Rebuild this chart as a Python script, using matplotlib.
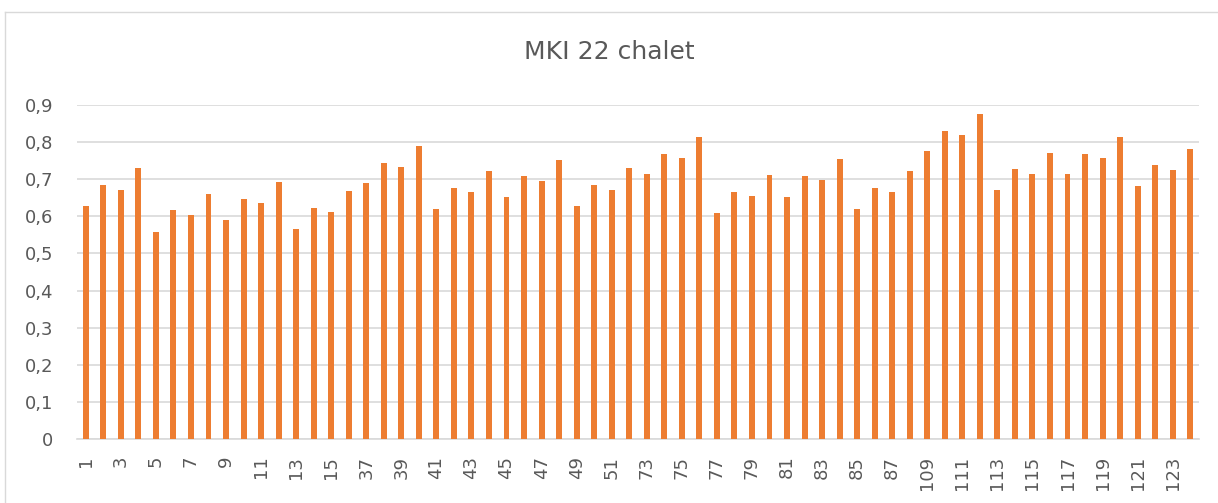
import matplotlib
matplotlib.use("Agg")
import matplotlib.pyplot as plt
from matplotlib.lines import Line2D

categories = [str(i) for i in list(range(1, 17)) + list(range(37, 53)) + list(range(73, 89)) + list(range(109, 125))]
values = [
    0.628, 0.684, 0.671, 0.729, 0.559, 0.616, 0.604, 0.661,
    0.590, 0.647, 0.635, 0.692, 0.566, 0.623, 0.612, 0.669,
    0.689, 0.745, 0.733, 0.790, 0.621, 0.677, 0.665, 0.722,
    0.652, 0.708, 0.696, 0.753, 0.628, 0.685, 0.672, 0.729,
    0.713, 0.769, 0.757, 0.814, 0.610, 0.666, 0.654, 0.711,
    0.652, 0.709, 0.697, 0.754, 0.620, 0.677, 0.665, 0.721,
    0.775, 0.831, 0.818, 0.875, 0.671, 0.728, 0.715, 0.772,
    0.713, 0.769, 0.757, 0.814, 0.681, 0.738, 0.725, 0.782,
]
yticks = [0, 0.1, 0.2, 0.3, 0.4, 0.5, 0.6, 0.7, 0.8, 0.9]
ytick_labels = ["0", "0,1", "0,2", "0,3", "0,4", "0,5", "0,6", "0,7", "0,8", "0,9"]
title = "MKI 22 chalet"

W, H = 1218, 503
fig = plt.figure(figsize=(W / 100, H / 100), dpi=100)
fig.patch.set_facecolor("white")

left, right, top, bottom = 77, 1199, 105, 439
ax = fig.add_axes([left / W, 1 - bottom / H, (right - left) / W, (bottom - top) / H])

x = list(range(len(categories)))
ax.bar(x, values, width=0.34, color="#ED7D31", zorder=3)

ax.set_xlim(-0.5, len(categories) - 0.5)
ax.set_ylim(0, 0.9)
ax.set_yticks(yticks)
ax.set_yticklabels(ytick_labels)
ax.set_xticks(x[::2])
ax.set_xticklabels(categories[::2], rotation=90)

ax.grid(axis="y", color="#D9D9D9", linewidth=1.2, zorder=0)
for s in ["top", "right", "left"]:
    ax.spines[s].set_visible(False)
ax.spines["bottom"].set_color("#D9D9D9")
ax.spines["bottom"].set_linewidth(1.2)
ax.tick_params(axis="both", length=0, colors="#595959", labelsize=13)
ax.tick_params(axis="y", pad=17)
ax.tick_params(axis="x", pad=12)

fig.text(0.5, 1 - 52 / H, title, ha="center", va="center", fontsize=18, color="#595959")

# chart border (top and left visible in reference)
bx, by = 4.5 / W, 1 - 12 / H
fig.add_artist(Line2D([bx, 1], [by, by], transform=fig.transFigure, color="#D9D9D9", linewidth=1))
fig.add_artist(Line2D([bx, bx], [0, by], transform=fig.transFigure, color="#D9D9D9", linewidth=1))

fig.savefig("out.png", dpi=100)
